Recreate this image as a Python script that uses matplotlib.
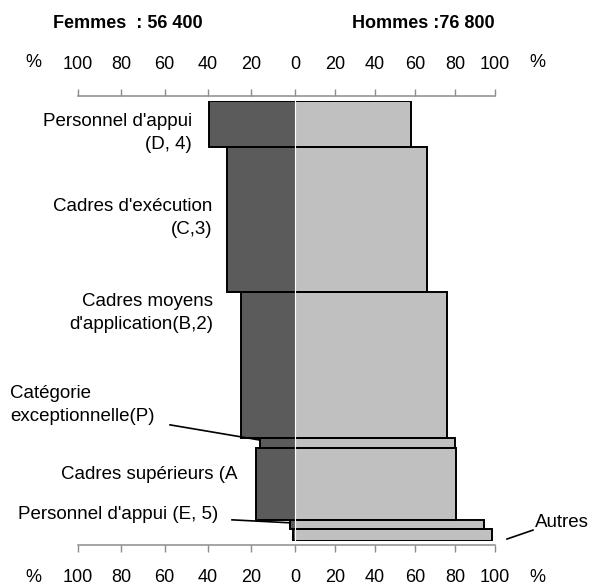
import numpy as np
import matplotlib
matplotlib.use("Agg")
import matplotlib.pyplot as plt

plt.rcParams['font.family'] = ['Liberation Sans', 'DejaVu Sans']

# catégories, de haut en bas
categories = ["Personnel d'appui\n(D, 4)", "Cadres d'exécution\n(C,3)",
              "Cadres moyens\nd'application(B,2)", "Catégorie\nexceptionnelle(P)",
              "Cadres supérieurs (A", "Personnel d'appui (E, 5)", "Autres"]
effectif = [13.9, 44.1, 44.0, 3.0, 21.8, 2.7, 3.6]   # milliers (épaisseur des barres)
femmes = [43, 34, 27, 17.5, 19.5, 2.5, 1]            # % femmes
hommes = [58, 66, 76, 80, 80.5, 94.5, 98.5]          # % hommes
tick_vals = [100, 80, 60, 40, 20, 0, 20, 40, 60, 80, 100]
titre_f = "Femmes  : 56 400"
titre_h = "Hommes :76 800"

dark = '#5b5b5b'
light = '#c0c0c0'
axis_col = '#8c8c8c'
left_scale = 1.0875   # the women's axis is drawn a bit wider than the men's

fig = plt.figure(figsize=(5.92, 5.88), dpi=100)
ax = fig.add_axes([0.1267, 0.0799, 0.7128, 0.7491])

total = sum(effectif)
top = np.concatenate([[0], np.cumsum(effectif)[:-1]])
f = np.array(femmes)
h = np.array(hommes)

ax.barh(top, -f, height=effectif, align='edge', color=dark, lw=0)
ax.barh(top, h, height=effectif, align='edge', color=light, lw=0)
ax.plot([0, 0], [0, total], color='white', lw=0.8)
ax.barh(top, f + h, left=-f, height=effectif, align='edge', fill=False,
        edgecolor='black', lw=1.4)

ax.set_xlim(-110, 101)
ax.set_ylim(total, 0)

pos = [-v * left_scale for v in tick_vals[:5]] + tick_vals[5:]
ax.set_xticks(pos)
ax.set_xticklabels([str(v) for v in tick_vals])
ax.tick_params(axis='x', top=True, labeltop=True, bottom=True, labelbottom=True,
               direction='out', length=5, width=1, color=axis_col,
               labelsize=13, pad=12)
ax.set_yticks([])
zero = ax.xaxis.get_major_ticks()[5]
zero.label1.set_fontweight('bold')
zero.label2.set_fontweight('bold')

for s in ['left', 'right']:
    ax.spines[s].set_visible(False)
for s in ['top', 'bottom']:
    ax.spines[s].set_position(('outward', 3))
    ax.spines[s].set_bounds(-100 * left_scale, 100)
    ax.spines[s].set_color(axis_col)
    ax.spines[s].set_linewidth(1.1)

tr = ax.get_xaxis_transform()
for yy in [1.087, -0.082]:
    ax.text(-131, yy, '%', transform=tr, ha='center', va='center', fontsize=13)
    ax.text(121, yy, '%', transform=tr, ha='center', va='center', fontsize=13)

ax.text(-83.5, 1.175, titre_f, transform=tr, ha='center', va='center',
        fontsize=13, fontweight='bold')
ax.text(64, 1.175, titre_h, transform=tr, ha='center', va='center',
        fontsize=13, fontweight='bold')

# étiquettes des catégories
label_pos = [(-51.5, 9.8, 'right'), (-41.5, 35.5, 'right'), (-41, 64.2, 'right'),
             (-142.5, 92.0, 'left'), (-28.5, 113.1, 'right'),
             (-138.5, 125.2, 'left'), (120, 127.4, 'left')]
for cat, (x, y, ha) in zip(categories, label_pos):
    ax.text(x, y, cat, ha=ha, va='center', fontsize=13.5, linespacing=1.45,
            multialignment=ha)

# traits de rappel
ax.plot([-62.5, -17.5], [98.0, 102.6], color='black', lw=1.2, clip_on=False)
ax.plot([-31.5, -2.5], [126.7, 127.6], color='black', lw=1.2, clip_on=False)
ax.plot([106, 119], [132.5, 129.8], color='black', lw=1.2, clip_on=False)

fig.savefig('out.png', dpi=100)
